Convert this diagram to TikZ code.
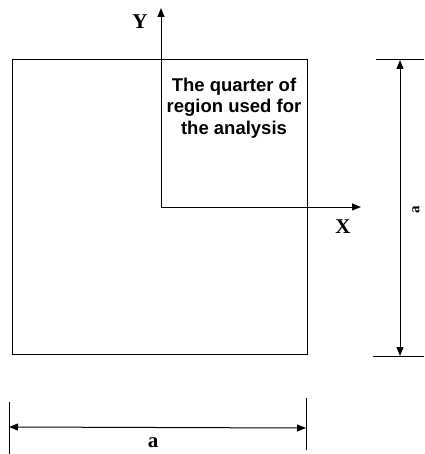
\documentclass[tikz,border=0pt]{standalone}
\usepackage{fontspec}
\setmainfont{Liberation Serif}
\newfontfamily\arialfont{Liberation Sans}
\usetikzlibrary{arrows.meta}
\begin{document}
\begin{tikzpicture}[x=1pt,y=-1pt,
  lin/.style={line width=1pt},
  tip/.style={-{Triangle[length=9pt,width=7pt]}},
  tips/.style={{Triangle[length=9pt,width=7pt]}-{Triangle[length=9pt,width=7pt]}},
  lbl/.style={font=\bfseries\fontsize{21}{23}\selectfont, inner sep=0pt}]
\useasboundingbox (0,0) rectangle (424,454);
% outer square
\draw[lin] (12,60) rectangle (307,354);
% axes
\coordinate (O) at (161,207);
\coordinate (Ytop) at (161,8);
\coordinate (Xend) at (361,207);
\draw[lin,tip] (O) -- (Ytop);
\draw[lin,tip] (O) -- (Xend);
\node[lbl] (Y) at (140,22) {Y};
\node[lbl] (X) at (343,227) {X};
\node[font=\arialfont\bfseries\fontsize{18.5}{21.5}\selectfont, align=center, inner sep=0pt] (q) at (234,108)
  {The quarter of\\region used for\\the analysis};
% right dimension
\coordinate (rt1) at (376,60); \coordinate (rt2) at (424,60);
\coordinate (rb1) at (373,356); \coordinate (rb2) at (424,356);
\draw[lin] (rt1) -- (rt2);
\draw[lin] (rb1) -- (rb2);
\coordinate (rtop) at (400,60); \coordinate (rbot) at (400,356);
\draw[lin,tips] (rtop) -- (rbot);
\node[font=\bfseries\fontsize{15}{17}\selectfont, inner sep=0pt, rotate=90] (ar) at (416,210) {a};
% bottom dimension
\coordinate (bl1) at (9,402); \coordinate (bl2) at (9,454);
\coordinate (br1) at (306,398); \coordinate (br2) at (306,450);
\draw[lin] (bl1) -- (bl2);
\draw[lin] (br1) -- (br2);
\coordinate (bl) at (9,427); \coordinate (br) at (306,428);
\draw[lin,tips] (bl) -- (br);
\node[lbl] (ab) at (153,443) {a};
\end{tikzpicture}
\end{document}
